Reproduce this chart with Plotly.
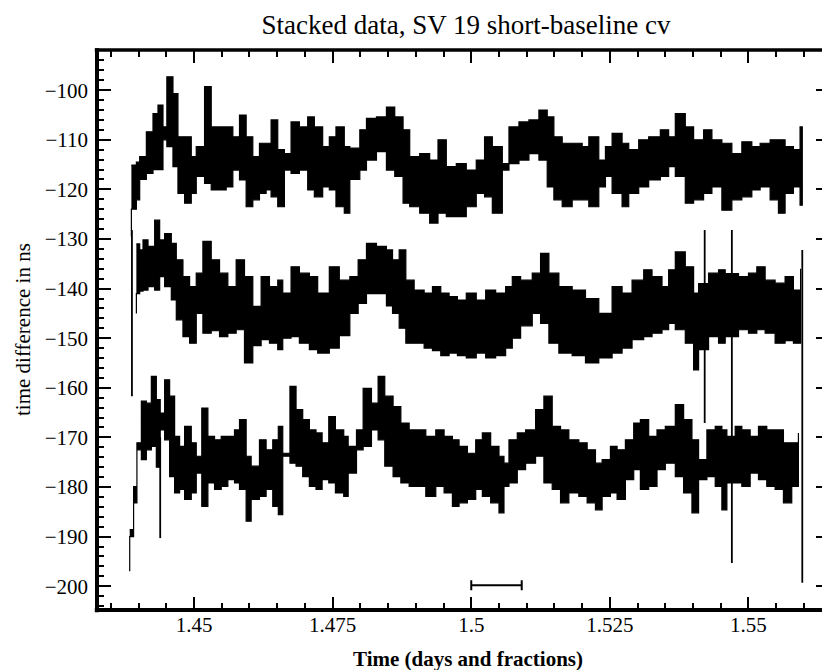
import plotly.graph_objects as go

# ---------------- data ----------------
# Top series: time (days), upper and lower envelope of the noisy trace (ns)
top_t = [1.4387, 1.4396, 1.4402, 1.4414, 1.4426, 1.4435, 1.4444, 1.4451, 1.4462, 1.4471,
         1.4483, 1.4495, 1.4504, 1.4519, 1.4531, 1.4543, 1.4558, 1.4570, 1.4582, 1.4594,
         1.4606, 1.4618, 1.4630, 1.4639, 1.4651, 1.4663, 1.4675, 1.4690, 1.4705, 1.4717,
         1.4732, 1.4744, 1.4756, 1.4771, 1.4781, 1.4799, 1.4811, 1.4829, 1.4847, 1.4862,
         1.4877, 1.4889, 1.4907, 1.4925, 1.4940, 1.4955, 1.4973, 1.4991, 1.5009, 1.5024,
         1.5038, 1.5056, 1.5068, 1.5086, 1.5104, 1.5122, 1.5137, 1.5149, 1.5164, 1.5182,
         1.5200, 1.5212, 1.5230, 1.5242, 1.5254, 1.5272, 1.5284, 1.5302, 1.5320, 1.5341,
         1.5356, 1.5368, 1.5386, 1.5401, 1.5419, 1.5434, 1.5452, 1.5470, 1.5488, 1.5506,
         1.5521, 1.5539, 1.5554, 1.5566, 1.5581, 1.5593, 1.5597]
top_hi = [-115.1, -114.5, -113.4, -108.4, -104.7, -103.0, -107.4, -97.3, -100.7, -109.4,
          -109.4, -113.4, -111.4, -99.3, -107.4, -107.4, -107.4, -109.4, -105.0, -109.4,
          -113.4, -110.7, -110.7, -106.0, -112.0, -112.8, -106.4, -107.4, -105.4, -107.4,
          -111.4, -109.4, -107.4, -111.4, -111.7, -108.0, -105.7, -105.4, -103.4, -105.4,
          -108.0, -113.4, -112.8, -114.1, -110.0, -115.4, -114.8, -116.1, -114.1, -109.4,
          -111.4, -114.8, -107.4, -106.4, -106.0, -104.0, -105.4, -109.4, -110.7, -110.7,
          -111.4, -109.4, -114.1, -111.4, -108.7, -110.7, -112.0, -110.0, -109.4, -108.0,
          -109.4, -104.7, -107.4, -110.0, -108.0, -110.0, -110.7, -112.8, -110.4, -111.4,
          -110.7, -110.0, -110.0, -111.4, -112.0, -107.4, -112.0]
top_lo = [-129.5, -124.0, -122.1, -118.0, -116.8, -116.0, -116.0, -110.0, -111.4, -115.4,
          -120.8, -122.8, -120.8, -117.4, -118.8, -120.1, -120.1, -119.5, -116.1, -118.1,
          -123.5, -122.1, -120.8, -120.1, -121.5, -123.5, -116.1, -116.8, -116.1, -120.1,
          -121.5, -119.5, -120.1, -123.5, -124.8, -118.0, -116.1, -114.1, -112.4, -116.1,
          -117.4, -122.8, -123.5, -124.8, -126.8, -124.8, -125.5, -125.5, -123.5, -120.8,
          -121.5, -124.8, -116.1, -114.8, -114.1, -112.8, -114.1, -119.5, -122.1, -123.5,
          -122.1, -122.1, -123.5, -119.5, -117.4, -120.8, -123.5, -120.8, -119.5, -118.1,
          -117.4, -115.4, -117.4, -122.8, -122.1, -120.8, -119.5, -124.2, -122.1, -121.5,
          -120.1, -119.5, -122.1, -124.8, -120.8, -119.5, -123.2]

# Middle series
mid_t = [1.4396, 1.4402, 1.4408, 1.4417, 1.4429, 1.4438, 1.4447, 1.4459, 1.4468, 1.4480,
         1.4492, 1.4504, 1.4516, 1.4531, 1.4546, 1.4561, 1.4576, 1.4591, 1.4606, 1.4621,
         1.4636, 1.4651, 1.4660, 1.4675, 1.4690, 1.4708, 1.4723, 1.4744, 1.4762, 1.4781,
         1.4796, 1.4811, 1.4829, 1.4847, 1.4858, 1.4870, 1.4882, 1.4897, 1.4915, 1.4930,
         1.4945, 1.4960, 1.4975, 1.4991, 1.5009, 1.5026, 1.5044, 1.5062, 1.5074, 1.5089,
         1.5110, 1.5125, 1.5140, 1.5158, 1.5182, 1.5206, 1.5230, 1.5254, 1.5272, 1.5290,
         1.5311, 1.5326, 1.5344, 1.5356, 1.5368, 1.5386, 1.5401, 1.5410, 1.5428, 1.5446,
         1.5458, 1.5482, 1.5500, 1.5515, 1.5530, 1.5548, 1.5566, 1.5581, 1.5594]
mid_hi = [-131.0, -132.2, -130.2, -131.5, -126.2, -130.2, -128.9, -130.9, -134.2, -137.6,
          -139.6, -136.9, -130.5, -134.2, -136.9, -139.6, -134.2, -137.6, -143.6, -137.6,
          -139.6, -138.3, -140.9, -135.6, -136.9, -137.6, -140.9, -135.6, -138.3, -137.6,
          -134.2, -130.9, -131.5, -132.2, -134.2, -132.2, -138.3, -140.3, -140.9, -139.6,
          -140.9, -141.6, -142.3, -140.9, -142.3, -140.3, -140.9, -139.6, -137.6, -138.3,
          -136.9, -132.9, -136.9, -139.6, -140.3, -142.0, -145.0, -139.6, -140.9, -138.3,
          -136.2, -137.6, -139.6, -136.2, -132.6, -135.6, -140.9, -139.0, -136.9, -136.2,
          -137.0, -137.6, -136.9, -135.6, -138.3, -138.9, -137.6, -140.3, -136.0]
mid_lo = [-145.0, -141.0, -140.5, -140.3, -139.6, -140.3, -137.6, -139.6, -142.3, -146.3,
          -149.7, -151.0, -145.0, -149.0, -148.5, -149.7, -149.0, -148.3, -155.0, -151.5,
          -150.3, -151.0, -152.3, -150.0, -149.7, -151.0, -152.3, -153.0, -152.0, -149.5,
          -145.0, -143.0, -141.0, -141.0, -143.5, -145.0, -148.0, -151.0, -151.0, -152.0,
          -152.5, -153.5, -153.0, -153.5, -154.0, -153.0, -154.0, -153.5, -152.0, -150.0,
          -147.5, -145.0, -147.0, -151.0, -153.0, -153.5, -155.0, -154.0, -153.0, -152.0,
          -150.3, -149.7, -149.0, -148.3, -147.0, -148.3, -151.0, -156.4, -152.3, -149.7,
          -151.0, -149.7, -148.3, -149.0, -148.3, -149.0, -151.0, -150.5, -151.0]

# Bottom series
bot_t = [1.4384, 1.4391, 1.4397, 1.4405, 1.4414, 1.4423, 1.4432, 1.4439, 1.4447, 1.4456,
         1.4465, 1.4474, 1.4483, 1.4495, 1.4504, 1.4514, 1.4525, 1.4537, 1.4549, 1.4561,
         1.4573, 1.4582, 1.4594, 1.4603, 1.4618, 1.4630, 1.4642, 1.4652, 1.4660, 1.4673,
         1.4684, 1.4696, 1.4708, 1.4720, 1.4731, 1.4743, 1.4755, 1.4770, 1.4778, 1.4793,
         1.4805, 1.4820, 1.4832, 1.4844, 1.4859, 1.4873, 1.4888, 1.4903, 1.4918, 1.4936,
         1.4951, 1.4966, 1.4978, 1.4993, 1.5008, 1.5020, 1.5035, 1.5050, 1.5059, 1.5068,
         1.5083, 1.5098, 1.5116, 1.5131, 1.5146, 1.5161, 1.5176, 1.5194, 1.5209, 1.5224,
         1.5236, 1.5251, 1.5263, 1.5278, 1.5293, 1.5305, 1.5320, 1.5335, 1.5350, 1.5368,
         1.5383, 1.5398, 1.5410, 1.5425, 1.5440, 1.5452, 1.5461, 1.5476, 1.5488, 1.5503,
         1.5518, 1.5533, 1.5548, 1.5563, 1.5578, 1.5590]
bot_hi = [-188.6, -179.9, -171.1, -162.7, -163.1, -157.7, -162.4, -165.1, -158.4, -161.7,
          -169.8, -171.8, -167.8, -171.1, -173.8, -164.1, -169.8, -170.5, -169.8, -169.8,
          -168.5, -166.4, -173.8, -175.8, -170.5, -172.5, -170.5, -167.8, -173.2, -159.7,
          -164.4, -166.4, -168.5, -169.1, -171.1, -165.8, -168.5, -169.8, -171.8, -168.5,
          -160.1, -163.1, -157.7, -161.7, -163.8, -167.1, -168.5, -168.5, -169.8, -168.5,
          -169.8, -170.5, -171.8, -173.2, -170.5, -169.1, -171.8, -173.8, -175.2, -170.5,
          -169.1, -168.5, -164.4, -161.7, -167.8, -168.5, -170.5, -171.1, -172.5, -175.2,
          -174.5, -171.8, -172.5, -170.5, -167.1, -166.4, -169.8, -168.5, -167.8, -163.4,
          -166.4, -170.5, -174.5, -168.5, -167.8, -168.5, -169.8, -167.8, -168.5, -169.8,
          -167.8, -168.5, -168.5, -171.1, -171.1, -169.1]
bot_lo = [-197.0, -190.0, -183.2, -172.5, -174.5, -172.5, -171.8, -176.0, -168.5, -170.5,
          -177.9, -181.2, -180.5, -182.5, -181.2, -177.2, -183.9, -179.2, -180.5, -179.9,
          -178.5, -179.2, -180.5, -186.9, -182.5, -181.9, -180.5, -183.9, -185.6, -173.8,
          -175.2, -175.8, -177.9, -179.9, -180.5, -178.5, -179.2, -181.2, -181.9, -177.2,
          -172.5, -171.8, -168.5, -170.5, -175.8, -177.9, -179.2, -179.9, -179.9, -181.9,
          -179.9, -181.2, -183.9, -183.2, -182.5, -180.5, -181.9, -183.2, -185.2, -179.9,
          -179.2, -176.5, -175.2, -173.8, -179.2, -180.5, -183.2, -181.2, -181.9, -183.2,
          -184.6, -181.9, -181.2, -182.5, -178.5, -176.5, -180.5, -179.9, -176.5, -175.2,
          -177.9, -181.2, -185.2, -178.5, -177.9, -179.9, -184.6, -179.2, -179.2, -179.9,
          -177.2, -178.5, -179.9, -180.5, -183.2, -179.9]

# Isolated outlier spikes: time, upper end, lower end
spike_t = [1.4388, 1.4439, 1.5421, 1.5470, 1.5597]
spike_top = [-128.2, -170.0, -128.2, -128.2, -132.2]
spike_bot = [-161.7, -190.3, -167.1, -195.3, -199.3]

# Scale bar at the bottom: centre time, half-width, level
bar_t = [1.50455]
bar_halfwidth = [0.00455]
bar_y = [-199.8]

# Axis ticks
x_tickvals = [1.45, 1.475, 1.5, 1.525, 1.55]
x_ticktext = ["1.45", "1.475", "1.5", "1.525", "1.55"]
y_tickvals = [-100, -110, -120, -130, -140, -150, -160, -170, -180, -190, -200]

# ---------------- figure ----------------
SERIF = "Liberation Serif, Times New Roman, serif"
OFF = 8  # the page body adds an 8 px margin around the figure
W, H = 830 - OFF, 670 - OFF
fig = go.Figure()

for t, hi, lo in [(top_t, top_hi, top_lo), (mid_t, mid_hi, mid_lo), (bot_t, bot_hi, bot_lo)]:
    fig.add_trace(go.Scatter(
        x=list(t) + list(t[::-1]),
        y=list(hi) + list(lo[::-1]),
        mode="lines", fill="toself", fillcolor="black",
        line=dict(color="black", width=1.2, shape="hv"),
        hoverinfo="skip", showlegend=False))

sx, sy = [], []
for t, a, b in zip(spike_t, spike_top, spike_bot):
    sx += [t, t, None]
    sy += [a, b, None]
fig.add_trace(go.Scatter(x=sx, y=sy, mode="lines",
                         line=dict(color="black", width=1.8),
                         hoverinfo="skip", showlegend=False))

fig.add_trace(go.Scatter(
    x=bar_t, y=bar_y, mode="markers", marker=dict(size=1, color="black"),
    error_x=dict(type="data", array=bar_halfwidth, color="black", thickness=2, width=5),
    hoverinfo="skip", showlegend=False))

axis_common = dict(showgrid=False, zeroline=False, showline=False,
                   ticks="inside", mirror="ticks", tickcolor="black", tickwidth=1.5,
                   tickfont=dict(family=SERIF, size=21, color="black"))

fig.update_xaxes(range=[1.4325, 1.5647], tickvals=x_tickvals, ticktext=x_ticktext,
                 ticklen=13,
                 minor=dict(ticks="inside", dtick=0.005, tick0=1.45, ticklen=7,
                            tickwidth=1.5, tickcolor="black"),
                 **axis_common)
fig.update_yaxes(range=[-204.8, -91.9], tickvals=y_tickvals,
                 ticklen=14, ticklabelstandoff=8,
                 minor=dict(ticks="inside", dtick=2, tick0=-200, ticklen=7,
                            tickwidth=1.5, tickcolor="black"),
                 **axis_common)

# frame lines (right edge is cut off in the reference)
fig.add_shape(type="line", xref="paper", yref="paper", x0=0, x1=0, y0=-0.004, y1=1.003,
              line=dict(color="black", width=4))
fig.add_shape(type="line", xref="paper", yref="paper", x0=-0.003, x1=1, y0=0, y1=0,
              line=dict(color="black", width=4))
fig.add_shape(type="line", xref="paper", yref="paper", x0=-0.003, x1=1, y0=1, y1=1,
              line=dict(color="black", width=3.5))

fig.add_annotation(text="Time (days and fractions)", xref="paper", yref="paper",
                   x=(468 - 97) / 733, y=-(659 - 610) / 560, showarrow=False,
                   xanchor="center", yanchor="middle",
                   font=dict(family=SERIF, size=21, color="black", weight="bold"))
fig.add_annotation(text="time difference in ns", xref="paper", yref="paper",
                   x=-(97 - 23) / 733, y=(610 - 330) / 560, showarrow=False, textangle=-90,
                   xanchor="center", yanchor="middle",
                   font=dict(family=SERIF, size=21, color="black"))

fig.update_layout(
    width=W, height=H,
    margin=dict(l=97 - OFF, r=0, t=50 - OFF, b=60),
    paper_bgcolor="white", plot_bgcolor="white",
    title=dict(text="Stacked data, SV 19 short-baseline cv", xref="container", yref="container",
               x=(466 - OFF) / W, y=1 - (25 - OFF) / H, xanchor="center", yanchor="middle",
               font=dict(family=SERIF, size=27, color="black")),
)

fig.write_html("out.html")
